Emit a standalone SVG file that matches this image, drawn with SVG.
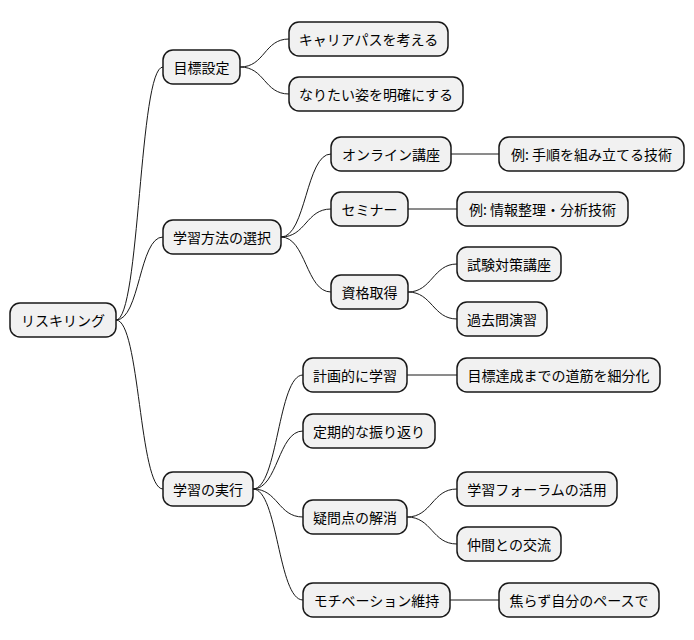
<svg xmlns="http://www.w3.org/2000/svg" width="694" height="640" viewBox="0 0 694 640">
<style>
.n rect{fill:#f1f1f1;stroke:#181818;stroke-width:1.5}
.n text{font-family:"Noto Sans CJK JP","Liberation Sans",sans-serif;font-size:14px;fill:#000;dominant-baseline:central;text-anchor:middle}
#c path{fill:none;stroke:#181818;stroke-width:1}
</style>
<rect width="694" height="640" fill="#fff"/>
<g id="c">
<path d="M116,320 C140,320 139,67 163,67"/>
<path d="M116,320 C140,320 139,237 163,237"/>
<path d="M116,320 C140,320 139,489 163,489"/>
<path d="M240,67 C265,67 264,39 289,39"/>
<path d="M240,67 C265,67 264,94 289,94"/>
<path d="M281,237 C306,237 306,154 331,154"/>
<path d="M281,237 C306,237 306,209 331,209"/>
<path d="M281,237 C306,237 306,292 331,292"/>
<path d="M451,154 L499,154"/>
<path d="M408,209 L457,209"/>
<path d="M408,292 C432,292 433,264 457,264"/>
<path d="M408,292 C432,292 433,319 457,319"/>
<path d="M253,489 C278,489 278,375 303,375"/>
<path d="M253,489 C278,489 278,431 303,431"/>
<path d="M253,489 C278,489 278,517 303,517"/>
<path d="M253,489 C278,489 278,600 303,600"/>
<path d="M407,375 L457,375"/>
<path d="M407,517 C432,517 432,489 457,489"/>
<path d="M407,517 C432,517 432,544 457,544"/>
<path d="M450,600 L499,600"/>
</g>
<g id="n0" class="n"><rect x="10" y="303" width="106" height="34" rx="10"/><text x="63" y="320">リスキリング</text></g>
<g id="n1" class="n"><rect x="163" y="50" width="77" height="34" rx="10"/><text x="201.5" y="67">目標設定</text></g>
<g id="n2" class="n"><rect x="289" y="22" width="159" height="34" rx="10"/><text x="368.5" y="39">キャリアパスを考える</text></g>
<g id="n3" class="n"><rect x="289" y="77" width="174" height="34" rx="10"/><text x="376" y="94">なりたい姿を明確にする</text></g>
<g id="n4" class="n"><rect x="163" y="220" width="118" height="34" rx="10"/><text x="222" y="237">学習方法の選択</text></g>
<g id="n5" class="n"><rect x="331" y="137" width="120" height="34" rx="10"/><text x="391" y="154">オンライン講座</text></g>
<g id="n6" class="n"><rect x="499" y="137" width="185" height="34" rx="10"/><text x="591.5" y="154">例: 手順を組み立てる技術</text></g>
<g id="n7" class="n"><rect x="331" y="192" width="77" height="34" rx="10"/><text x="369.5" y="209">セミナー</text></g>
<g id="n8" class="n"><rect x="457" y="192" width="171" height="34" rx="10"/><text x="542.5" y="209">例: 情報整理・分析技術</text></g>
<g id="n9" class="n"><rect x="331" y="275" width="77" height="34" rx="10"/><text x="369.5" y="292">資格取得</text></g>
<g id="n10" class="n"><rect x="457" y="247" width="104" height="34" rx="10"/><text x="509" y="264">試験対策講座</text></g>
<g id="n11" class="n"><rect x="457" y="302" width="90" height="34" rx="10"/><text x="502" y="319">過去問演習</text></g>
<g id="n12" class="n"><rect x="163" y="472" width="90" height="34" rx="10"/><text x="208" y="489">学習の実行</text></g>
<g id="n13" class="n"><rect x="303" y="358" width="104" height="34" rx="10"/><text x="355" y="375">計画的に学習</text></g>
<g id="n14" class="n"><rect x="457" y="358" width="203" height="34" rx="10"/><text x="558.5" y="375">目標達成までの道筋を細分化</text></g>
<g id="n15" class="n"><rect x="303" y="414" width="132" height="34" rx="10"/><text x="369" y="431">定期的な振り返り</text></g>
<g id="n16" class="n"><rect x="303" y="500" width="104" height="34" rx="10"/><text x="355" y="517">疑問点の解消</text></g>
<g id="n17" class="n"><rect x="457" y="472" width="160" height="34" rx="10"/><text x="537" y="489">学習フォーラムの活用</text></g>
<g id="n18" class="n"><rect x="457" y="527" width="104" height="34" rx="10"/><text x="509" y="544">仲間との交流</text></g>
<g id="n19" class="n"><rect x="303" y="583" width="147" height="34" rx="10"/><text x="376.5" y="600">モチベーション維持</text></g>
<g id="n20" class="n"><rect x="499" y="583" width="160" height="34" rx="10"/><text x="579" y="600">焦らず自分のペースで</text></g>
</svg>
